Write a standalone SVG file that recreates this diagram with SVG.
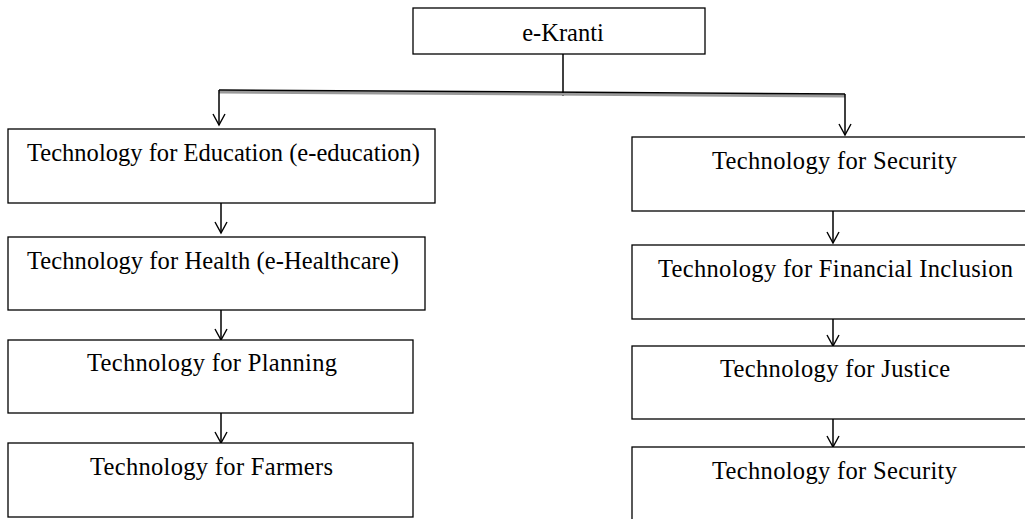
<svg xmlns="http://www.w3.org/2000/svg" width="1025" height="519" viewBox="0 0 1025 519">
<defs>
<marker id="arr" markerWidth="14" markerHeight="14" refX="12" refY="7" orient="auto" markerUnits="userSpaceOnUse" viewBox="0 0 14 14">
<path d="M1,1 L12,7 L1,13" fill="none" stroke="#000" stroke-width="1.4"/>
</marker>
<style>
.box{fill:#fff;stroke:#000;stroke-width:1.3}
.c{stroke:#000;stroke-width:1.5;fill:none}
</style>
</defs>
<rect width="1025" height="519" fill="#fff"/>
<g id="connectors">
<line class="c" x1="563" y1="54" x2="563" y2="96"/>
<line x1="219" y1="92" x2="845" y2="96" stroke="#999" stroke-width="3"/>
<line class="c" x1="219" y1="90" x2="845" y2="94"/>
<line class="c" x1="219" y1="90" x2="219" y2="125" marker-end="url(#arr)"/>
<line class="c" x1="845" y1="94" x2="845" y2="135" marker-end="url(#arr)"/>
<line class="c" x1="221" y1="203" x2="221" y2="233" marker-end="url(#arr)"/>
<line class="c" x1="221" y1="310" x2="221" y2="340" marker-end="url(#arr)"/>
<line class="c" x1="221" y1="413" x2="221" y2="443" marker-end="url(#arr)"/>
<line class="c" x1="833" y1="211" x2="833" y2="243" marker-end="url(#arr)"/>
<line class="c" x1="833" y1="319" x2="833" y2="346" marker-end="url(#arr)"/>
<line class="c" x1="833" y1="419" x2="833" y2="447" marker-end="url(#arr)"/>
</g>
<g font-family="Liberation Serif, Times New Roman, serif" font-size="24.5" fill="#000">
<g id="n0"><rect class="box" x="413" y="8" width="292" height="46"/><text x="563" y="41" text-anchor="middle">e-Kranti</text></g>
<g id="n1"><rect class="box" x="8" y="129" width="427" height="74"/><text x="27" y="161" textLength="393">Technology for Education (e-education)</text></g>
<g id="n2"><rect class="box" x="8" y="237" width="417" height="73"/><text x="27" y="269" textLength="372">Technology for Health (e-Healthcare)</text></g>
<g id="n3"><rect class="box" x="8" y="340" width="405" height="73"/><text x="87" y="371" textLength="250">Technology for Planning</text></g>
<g id="n4"><rect class="box" x="8" y="443" width="405" height="74"/><text x="90" y="475" textLength="243">Technology for Farmers</text></g>
<g id="n5"><rect class="box" x="632" y="137" width="400" height="74"/><text x="712" y="169" textLength="245">Technology for Security</text></g>
<g id="n6"><rect class="box" x="632" y="245" width="400" height="74" stroke-width="2"/><text x="658" y="277" textLength="355">Technology for Financial Inclusion</text></g>
<g id="n7"><rect class="box" x="632" y="346" width="400" height="73"/><text x="720" y="377" textLength="230">Technology for Justice</text></g>
<g id="n8"><rect class="box" x="632" y="447" width="400" height="80"/><text x="712" y="479" textLength="245">Technology for Security</text></g>
</g>
</svg>
